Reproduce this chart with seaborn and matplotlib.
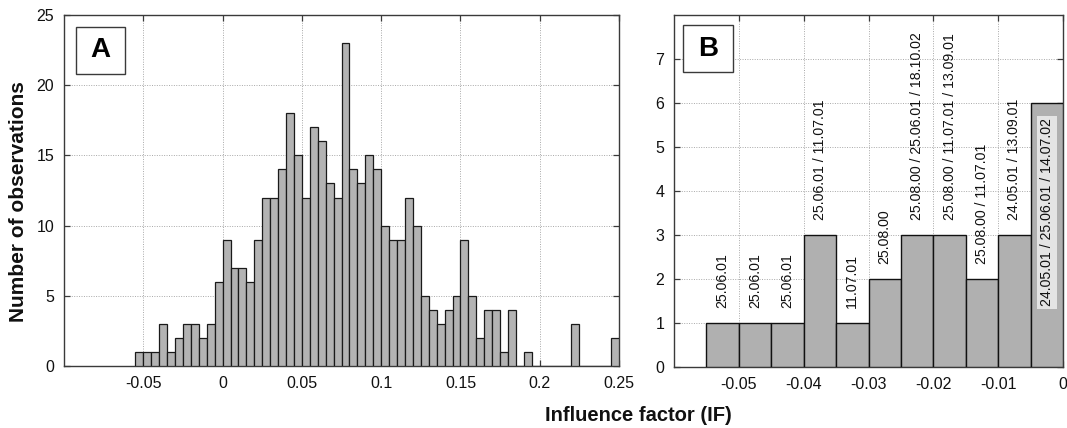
import numpy as np
import pandas as pd
import matplotlib
matplotlib.use("Agg")
import matplotlib.pyplot as plt
from matplotlib.patches import Rectangle
import seaborn as sns

# ---------------- data ----------------
# Panel A: histogram counts, bins of width 0.005 starting at -0.055
counts_a = [1, 1, 1, 3, 1, 2, 3, 3, 2, 3, 6, 9, 7, 7, 6, 9, 12, 12, 14, 18,
            15, 12, 17, 16, 13, 12, 23, 14, 13, 15, 14, 10, 9, 9, 12, 10, 5, 4, 3, 4,
            5, 9, 5, 2, 4, 4, 1, 4, 0, 1, 0, 0, 0, 0, 0, 3, 0, 0, 0, 0, 2]
bin_start_a = -0.055
bin_width = 0.005

# Panel B: zoom on negative IF values
counts_b = [1, 1, 1, 3, 1, 2, 3, 3, 2, 3, 6]
bin_start_b = -0.055
dates_b = ["25.06.01", "25.06.01", "25.06.01", "25.06.01 / 11.07.01", "11.07.01",
           "25.08.00", "25.08.00 / 25.06.01 / 18.10.02", "25.08.00 / 11.07.01 / 13.09.01",
           "25.08.00 / 11.07.01", "24.05.01 / 13.09.01", "24.05.01 / 25.06.01 / 14.07.02"]

xticks_a = [-0.05, 0, 0.05, 0.1, 0.15, 0.2, 0.25]
xticklabels_a = ["-0.05", "0", "0.05", "0.1", "0.15", "0.2", "0.25"]
yticks_a = [0, 5, 10, 15, 20, 25]
xticks_b = [-0.05, -0.04, -0.03, -0.02, -0.01, 0]
xticklabels_b = ["-0.05", "-0.04", "-0.03", "-0.02", "-0.01", "0"]
yticks_b = [0, 1, 2, 3, 4, 5, 6, 7]

# ---------------- style ----------------
sns.set_style("white")
plt.rcParams['font.family'] = ['Liberation Sans', 'DejaVu Sans']

fig = plt.figure(figsize=(10.67, 4.28), dpi=100)
axA = fig.add_axes([0.0600, 0.1449, 0.5202, 0.8201])
axB = fig.add_axes([0.6317, 0.1425, 0.3646, 0.8224])

def make_df(counts, start):
    n = len(counts)
    edges = start + bin_width * np.arange(n + 1)
    centers = edges[:-1] + bin_width / 2
    return pd.DataFrame({"IF": centers, "n": np.asarray(counts, dtype=float)}), (edges[0], edges[-1])

dfA, rangeA = make_df(counts_a, bin_start_a)
dfB, rangeB = make_df(counts_b, bin_start_b)

sns.histplot(data=dfA, x="IF", weights="n", binwidth=bin_width, binrange=rangeA, ax=axA,
             color="#b3b3b3", edgecolor="#1a1a1a", linewidth=0.9, alpha=1, zorder=3)
sns.histplot(data=dfB, x="IF", weights="n", binwidth=bin_width, binrange=rangeB, ax=axB,
             color="#b0b0b0", edgecolor="#111111", linewidth=1.0, alpha=1, zorder=3)

def style_axes(ax):
    ax.set_xlabel("")
    ax.set_ylabel("")
    ax.grid(True, linestyle=(0, (1, 1.5)), color="#a8a8a8", linewidth=0.7, zorder=0)
    ax.set_axisbelow(True)
    for s in ax.spines.values():
        s.set_visible(True)
        s.set_color("#3a3a3a")
        s.set_linewidth(1.0)
    ax.tick_params(direction="in", length=4, width=0.9, color="#3a3a3a",
                   top=True, right=True, bottom=True, left=True,
                   labelsize=11.5, labelcolor="#111111", pad=7)

axA.set_xlim(-0.1, 0.25)
axA.set_ylim(0, 25)
axA.set_xticks(xticks_a)
axA.set_xticklabels(xticklabels_a)
axA.set_yticks(yticks_a)
axA.set_yticklabels([str(v) for v in yticks_a])
style_axes(axA)

axB.set_xlim(-0.06, 0)
axB.set_ylim(0, 8)
axB.set_xticks(xticks_b)
axB.set_xticklabels(xticklabels_b)
axB.set_yticks(yticks_b)
axB.set_yticklabels([str(v) for v in yticks_b])
style_axes(axB)

# date labels in panel B
centersB = dfB["IF"].values
for i, (xc, c, lab) in enumerate(zip(centersB, counts_b, dates_b)):
    if i == len(counts_b) - 1:
        axB.text(xc, 1.38, lab, rotation=90, ha="center", va="bottom", fontsize=10.2,
                 color="#111111", zorder=5,
                 bbox=dict(boxstyle="square,pad=0.2", facecolor="#e4e4e4", edgecolor="none"))
    else:
        axB.text(xc, c + 0.33, lab, rotation=90, ha="center", va="bottom", fontsize=10.2,
                 color="#111111", zorder=5)

# panel letters in boxes
def letter_box(ax, x0, y0, w, h, letter):
    ax.add_patch(Rectangle((x0, y0), w, h, transform=ax.transAxes, facecolor="white",
                           edgecolor="#3a3a3a", linewidth=1.0, zorder=6))
    ax.text(x0 + w / 2, y0 + h / 2, letter, transform=ax.transAxes, ha="center",
            va="center", fontsize=20, fontweight="bold", color="black", zorder=7)

letter_box(axA, 0.0216, 0.832, 0.0883, 0.134, "A")
letter_box(axB, 0.0231, 0.838, 0.1285, 0.1335, "B")

fig.text(0.598, 0.030, "Influence factor (IF)", ha="center", va="center",
         fontsize=14.5, fontweight="bold", color="#111111")
fig.text(0.017, 0.528, "Number of observations", ha="center", va="center",
         rotation=90, fontsize=15, fontweight="bold", color="#111111")

fig.savefig("out.png", dpi=100)
